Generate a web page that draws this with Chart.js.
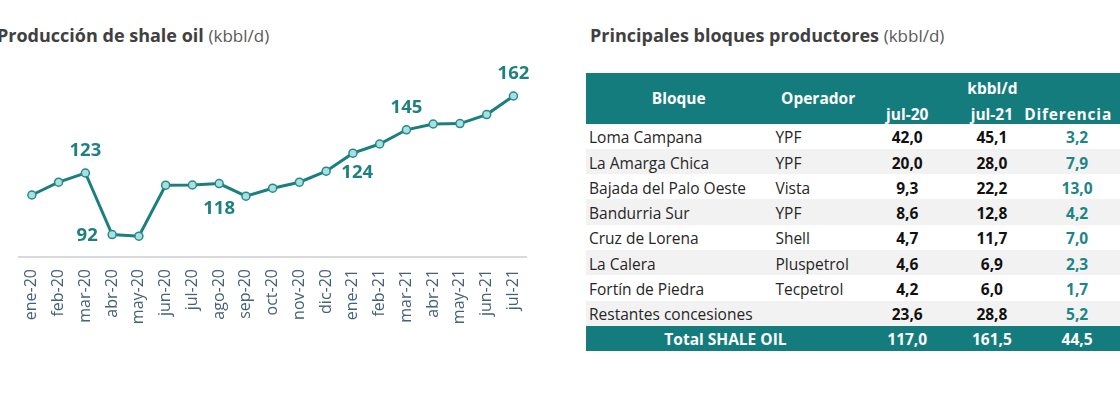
<!DOCTYPE html>
<html>
<head>
<meta charset="utf-8">
<script src="https://cdn.jsdelivr.net/npm/chart.js@4.4.0/dist/chart.umd.min.js"></script>
<style>
  html, body { margin:0; padding:0; background:#fff; width:1120px; height:399px; overflow:hidden; position:relative; font-family:"Open Sans", sans-serif; }
  .title { position:absolute; white-space:nowrap; font-size:18px; color:#404040; line-height:20px; }
  .title b { font-weight:700; }
  .title span { font-weight:400; color:#595959; font-size:17px; }
  #chartBox { position:absolute; left:0; top:0; width:545px; height:337px; }
  table { position:absolute; left:586px; top:73px; border-collapse:collapse; table-layout:fixed; font-size:15.5px; color:#262626; }
  td, th { padding:0; white-space:nowrap; line-height:18px; box-sizing:border-box; }
  tr { height:25.3px; }
  thead th { background:#147c7c; color:#fff; font-weight:700; text-align:center; vertical-align:bottom; padding-bottom:1px; font-size:15.5px; }
  thead th.mid { vertical-align:middle; padding-bottom:0; }
  tbody td { vertical-align:middle; padding-top:2px; }
  tbody tr:nth-child(even) td { background:#f2f2f2; }
  td.l1 { text-align:left; padding-left:3px; }
  td.l2 { text-align:left; padding-left:4px; }
  td.n { text-align:center; font-weight:700; color:#111; }
  td.d { text-align:center; font-weight:700; color:#1d8585; }
  tfoot td { background:#147c7c; color:#fff; font-weight:700; text-align:center; padding-top:1px; }
  th.dif { text-align:left; }
  .wide { display:inline-block; margin-left:-10px; letter-spacing:0.8px; }
</style>
</head>
<body>
<div class="title" style="left:-3px; top:25px;"><b>Producción de shale oil</b> <span>(kbbl/d)</span></div>
<div class="title" style="left:590px; top:25px;"><b>Principales bloques productores</b> <span>(kbbl/d)</span></div>
<div id="chartBox"><canvas id="c"></canvas></div>
<table id="tbl">
  <colgroup><col style="width:186px"><col style="width:94px"><col style="width:86px"><col style="width:86px"><col style="width:86px"></colgroup>
  <thead>
    <tr><th class="mid" rowspan="2">Bloque</th><th class="mid" rowspan="2">Operador</th><th colspan="3">kbbl/d</th></tr>
    <tr><th>jul-20</th><th>jul-21</th><th class="dif"><span class="wide">Diferencia</span></th></tr>
  </thead>
  <tbody id="tb"></tbody>
  <tfoot><tr><td colspan="2">Total SHALE OIL</td><td id="t20"></td><td id="t21"></td><td id="tdf"></td></tr></tfoot>
</table>
<script>
// ---- Chart data ----
const months = ["ene-20","feb-20","mar-20","abr-20","may-20","jun-20","jul-20","ago-20","sep-20","oct-20","nov-20","dic-20","ene-21","feb-21","mar-21","abr-21","may-21","jun-21","jul-21"];
const production = [112.0,118.4,123.0,92.2,91.4,116.9,117.0,117.7,111.4,115.4,118.4,123.9,132.9,137.5,144.6,147.5,147.7,152.2,161.5];
const labeledIdx = [2,3,7,11,14,18];
const labeledPos = ["above","left","below","right","above","above"];

// ---- Table data ----
const bloques = ["Loma Campana","La Amarga Chica","Bajada del Palo Oeste","Bandurria Sur","Cruz de Lorena","La Calera","Fortín de Piedra","Restantes concesiones"];
const operadores = ["YPF","YPF","Vista","YPF","Shell","Pluspetrol","Tecpetrol",""];
const jul20 = [42.0,20.0,9.3,8.6,4.7,4.6,4.2,23.6];
const jul21 = [45.1,28.0,22.2,12.8,11.7,6.9,6.0,28.8];
const diferencia = [3.2,7.9,13.0,4.2,7.0,2.3,1.7,5.2];
const totals = [117.0,161.5,44.5];

const fmt = v => v.toFixed(1).replace('.', ',');
const tb = document.getElementById('tb');
bloques.forEach((b,i)=>{
  const tr = document.createElement('tr');
  tr.innerHTML = `<td class="l1">${b}</td><td class="l2">${operadores[i]}</td><td class="n">${fmt(jul20[i])}</td><td class="n">${fmt(jul21[i])}</td><td class="d">${fmt(diferencia[i])}</td>`;
  tb.appendChild(tr);
});
document.getElementById('t20').textContent = fmt(totals[0]);
document.getElementById('t21').textContent = fmt(totals[1]);
document.getElementById('tdf').textContent = fmt(totals[2]);

const TEAL = '#1b7f80';
const offsets = { above:[0,-22], below:[0,25], left:[-25,1], right:[31,2] };
const valueLabels = {
  id:'valueLabels',
  afterDatasetsDraw(chart){
    const meta = chart.getDatasetMeta(0);
    const ctx = chart.ctx;
    ctx.save();
    ctx.font = 'bold 18.5px "Open Sans"';
    ctx.fillStyle = '#1f8080';
    ctx.textAlign = 'center';
    ctx.textBaseline = 'middle';
    labeledIdx.forEach((idx,k)=>{
      const p = meta.data[idx];
      const o = offsets[labeledPos[k]];
      ctx.fillText(String(Math.round(production[idx])), p.x + o[0], p.y + o[1]);
    });
    ctx.restore();
  }
};

new Chart(document.getElementById('c'), {
  type:'line',
  data:{
    labels: months,
    datasets:[{
      data: production,
      borderColor: TEAL,
      borderWidth: 3,
      pointRadius: 4,
      pointBorderWidth: 1.5,
      pointBackgroundColor: '#a9dfdf',
      pointBorderColor: '#268a8a',
      tension: 0,
      clip: false
    }]
  },
  options:{
    responsive:true,
    maintainAspectRatio:false,
    animation:false,
    events:[],
    layout:{ padding:{ left:18.5, right:13.5, top:57, bottom:0 } },
    plugins:{ legend:{display:false}, tooltip:{enabled:false} },
    scales:{
      x:{
        offset:true,
        grid:{ display:false, drawTicks:false },
        border:{ display:true, color:'#d9d9d9', width:2 },
        ticks:{ minRotation:90, maxRotation:90, autoSkip:false, padding:12, color:'#46617a', font:{ family:'"Open Sans"', size:16 } },
        afterFit: s => { s.height = 80; }
      },
      y:{ display:false, min:81, max:181 }
    }
  },
  plugins:[valueLabels]
});
</script>
</body>
</html>
